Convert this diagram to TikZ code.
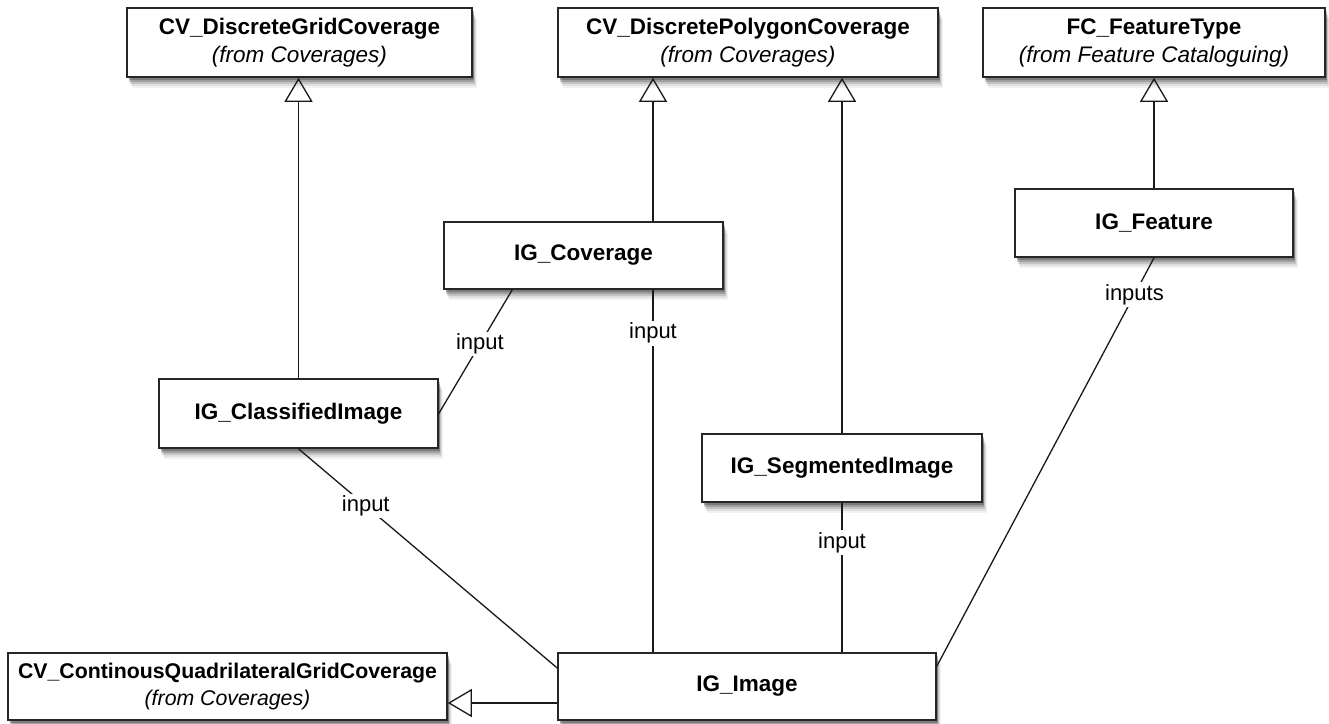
\documentclass[tikz,border=0pt]{standalone}
\usepackage{fontspec}
\setmainfont{Liberation Sans}
\usetikzlibrary{arrows.meta,shadows}

\tikzset{
  umlclass/.style={draw=black!85, line width=1.6pt, fill=white, align=center,
    inner sep=0pt, font=\fontsize{22.5}{28}\selectfont,
    drop shadow={shadow xshift=5pt, shadow yshift=-11pt, opacity=0.05, fill=black},
    drop shadow={shadow xshift=4pt, shadow yshift=-9pt, opacity=0.08, fill=black},
    drop shadow={shadow xshift=3pt, shadow yshift=-7pt, opacity=0.12, fill=black},
    drop shadow={shadow xshift=2pt, shadow yshift=-5pt, opacity=0.18, fill=black},
    drop shadow={shadow xshift=1.5pt, shadow yshift=-3pt, opacity=0.22, fill=black}},
  gen/.style={line width=1.3pt, draw=black!90,
    -{Triangle[open, length=24pt, width=28pt, line width=1.3pt]}},
  assoc/.style={line width=1.3pt, draw=black!90},
  role/.style={fill=white, inner sep=2pt, font=\fontsize{22}{26}\selectfont}
}

\begin{document}
\begin{tikzpicture}[x=1pt, y=-1pt]
  \useasboundingbox[fill=white] (0,0) rectangle (1329,723);

  % parent classes from other packages
  \node[umlclass, minimum width=345pt, minimum height=69pt] (dgc) at (299.5,42.5)
    {\textbf{CV\_DiscreteGridCoverage}\\\textit{(from Coverages)}};
  \node[umlclass, minimum width=380pt, minimum height=69pt] (dpc) at (748,42.5)
    {\textbf{CV\_DiscretePolygonCoverage}\\\textit{(from Coverages)}};
  \node[umlclass, minimum width=342pt, minimum height=69pt] (fct) at (1154,42.5)
    {\textbf{FC\_FeatureType}\\\textit{(from Feature Cataloguing)}};
  \node[umlclass, minimum width=439pt, minimum height=67pt,
        font=\fontsize{21.3}{27}\selectfont] (cqg) at (227.5,686.5)
    {\textbf{CV\_ContinousQuadrilateralGridCoverage}\\\textit{(from Coverages)}};

  % image geometry classes
  \node[umlclass, minimum width=279pt, minimum height=67pt] (cov) at (583.5,255.5)
    {\textbf{IG\_Coverage}};
  \node[umlclass, minimum width=278pt, minimum height=68pt] (feat) at (1154,223)
    {\textbf{IG\_Feature}};
  \node[umlclass, minimum width=279pt, minimum height=69pt] (cls) at (298.5,413.5)
    {\textbf{IG\_ClassifiedImage}};
  \node[umlclass, minimum width=280pt, minimum height=68pt] (seg) at (842,468)
    {\textbf{IG\_SegmentedImage}};
  \node[umlclass, minimum width=378pt, minimum height=67pt] (img) at (747,686.5)
    {\textbf{IG\_Image}};

  \coordinate (covx) at (653,0);

  % generalizations
  \draw[gen] (cls.north) -- (cls.north |- dgc.south);
  \draw[gen] (covx |- cov.north) -- (covx |- dpc.south);
  \draw[gen] (seg.north) -- (seg.north |- dpc.south);
  \draw[gen] (feat.north) -- (feat.north |- fct.south);
  \draw[gen] ([yshift=-16.5pt]img.west) -- ([yshift=-16.5pt]cqg.east);

  % input associations
  \draw[assoc] ([xshift=69pt]cov.south west) -- node[role, pos=0.44] {input} (cls.east);
  \draw[assoc] (covx |- cov.south) -- node[role, pos=0.12] {input} (covx |- img.north);
  \draw[assoc] (cls.south) -- node[role, pos=0.26] {input} ([yshift=18.5pt]img.west);
  \draw[assoc] (seg.south) -- node[role, pos=0.265] {input} (seg.south |- img.north);
  \draw[assoc] (feat.south) -- node[role, pos=0.09] {inputs} ([yshift=-14pt]img.north east);
\end{tikzpicture}
\end{document}
